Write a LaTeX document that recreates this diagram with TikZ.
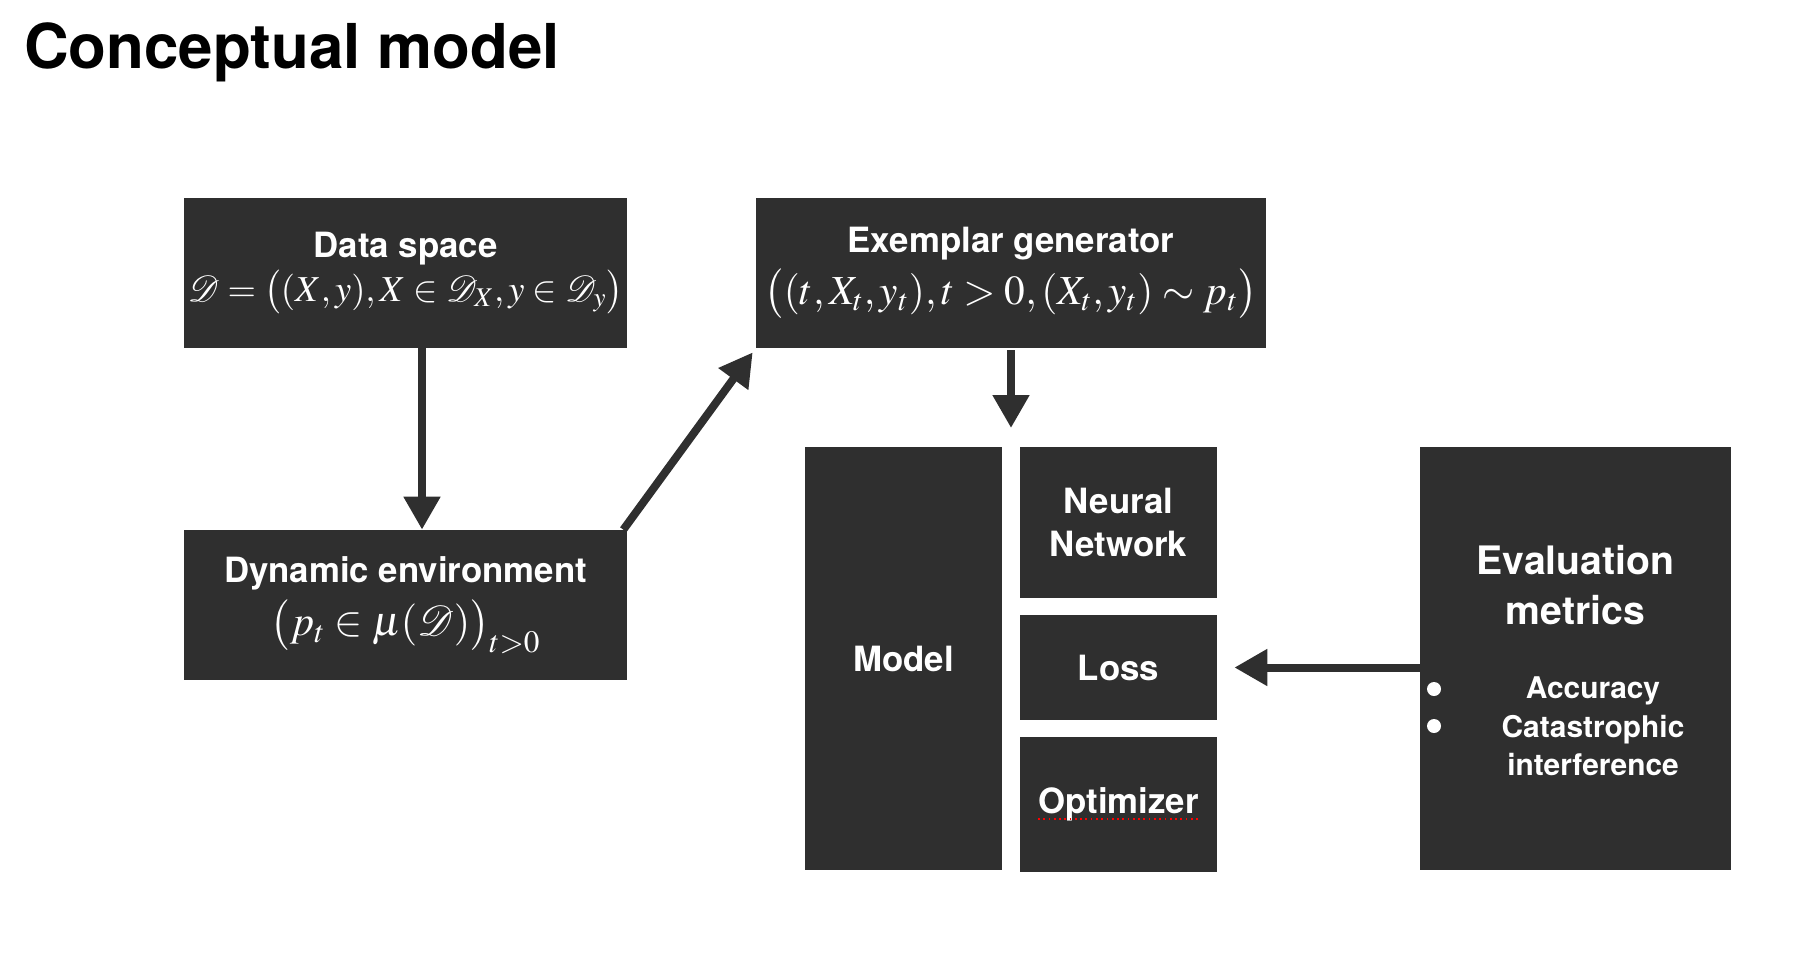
\documentclass[tikz,border=0pt]{standalone}
\usepackage{mathptmx}
\usepackage[no-math]{fontspec}
\setmainfont{TeX Gyre Heros}
\usetikzlibrary{arrows.meta,positioning}
\definecolor{boxgray}{RGB}{47,47,47}

\begin{document}
\begin{tikzpicture}[
  blk/.style={fill=boxgray,text=white,inner sep=0pt,align=center,font=\bfseries\fontsize{19.8}{24.4}\selectfont},
  arr/.style={draw=boxgray,line width=0.16cm,-{Triangle[width=0.7cm,length=0.66cm]}}
  ]

  \useasboundingbox (0,0) rectangle (36.12,-19.08);

  \node [anchor=base west,font=\bfseries\fontsize{35.2}{40}\selectfont] at (0.36,-1.36) (title) {Conceptual model};

  % top row
  \node [blk,minimum width=8.86cm,minimum height=3cm] at (8.11,-5.46) (data) {Data space\\[0.02cm]{\mdseries\fontsize{20.8}{24}\selectfont\thickmuskip=4mu $\mathcal{D}=\big((X,y),X\in\mathcal{D}_X,y\in\mathcal{D}_y\big)$}};
  \node [blk,minimum width=10.2cm,minimum height=3cm] at (20.22,-5.46) (exem) {Exemplar generator\\[0.18cm]{\mdseries\fontsize{23.5}{28}\selectfont\thickmuskip=4mu $\big((t,X_t,y_t),t>0,(X_t,y_t)\sim p_t\big)$}};
  \node [blk,minimum width=8.86cm,minimum height=3cm] at (8.11,-12.1) (dyn) {Dynamic environment\\[0.16cm]{\mdseries\fontsize{24}{28}\selectfont $\big(p_t\in\mu(\mathcal{D})\big)_{t>0}$}};

  % model and its parts
  \node [blk,minimum width=3.94cm,minimum height=8.46cm] at (18.07,-13.17) (model) {Model};
  \node [blk,minimum width=3.94cm,minimum height=3.02cm] at (22.37,-10.45) (net) {Neural\\Network};
  \node [blk,minimum width=3.94cm,minimum height=2.1cm] at (22.37,-13.35) (loss) {Loss};
  \node [blk,minimum width=3.94cm,minimum height=2.7cm] at (22.37,-16.09) (opt) {Optimizer};
  \draw [red,dotted,line width=1pt] (20.76,-16.38) -- (24.0,-16.38);

  % evaluation
  \node [blk,minimum width=6.22cm,minimum height=8.46cm] at (31.51,-13.17) (eval) {};
  \node [text=white,align=center,inner sep=0pt,font=\bfseries\fontsize{22.3}{28.3}\selectfont] at (31.51,-11.7) (evalhead) {Evaluation\\metrics};
  \node [text=white,align=center,inner sep=0pt,font=\bfseries\fontsize{17}{21.8}\selectfont] at (31.86,-14.53) (evallist) {Accuracy\\Catastrophic\\interference};
  \fill [white] (28.68,-13.78) circle (0.14cm) (28.68,-14.52) circle (0.14cm);

  % connectors
  \coordinate (gap) at (20.22,-8.56);
  \draw [arr] ([xshift=0.33cm]data.south) -- ([xshift=0.33cm]dyn.north);
  \draw [arr,shorten >=0.1cm] ([xshift=-0.08cm]dyn.north east) -- (exem.south west);
  \draw [arr] ([yshift=-0.04cm]exem.south) -- (gap);
  \draw [arr,shorten >=0.34cm] (eval.west |- loss.east) -- (loss.east);

\end{tikzpicture}
\end{document}
